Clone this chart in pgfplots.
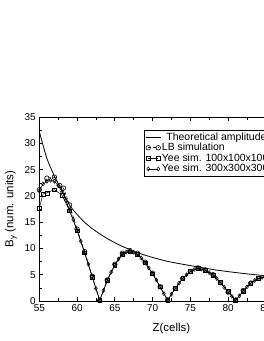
\documentclass[border=0pt]{standalone}
\usepackage{fontspec}
\setmainfont{Liberation Sans}
\usepackage{pgfplots}
\pgfplotsset{compat=1.18}
\begin{document}
\begin{tikzpicture}
\useasboundingbox (0,0) rectangle (264bp,341bp);
\begin{axis}[
  at={(39.3bp,40bp)}, anchor=south west,
  scale only axis, width=264.3bp, height=183.7bp,
  xmin=55, xmax=90, ymin=0, ymax=35,
  xtick={55,60,...,90}, ytick={0,5,...,35},
  minor xtick={57.5,62.5,...,87.5}, minor ytick={2.5,7.5,...,32.5},
  tick align=inside, major tick length=3.5bp, minor tick length=3bp,
  axis line style={line width=0.8bp}, every tick/.style={line width=0.7bp, black},
  /pgf/number format/assume math mode=true,
  tick label style={font=\fontsize{10}{12}\selectfont},
  xlabel={Z(cells)}, ylabel={B\textsubscript{y} (num. units)},
  label style={font=\fontsize{11.5}{13}\selectfont},
  xlabel style={yshift=-5bp}, ylabel style={yshift=1bp},
  clip=false,
  legend style={at={(axis cs:68.9,32.6)}, anchor=north west, draw=black, line width=0.6bp,
    font=\fontsize{10.5}{11}\selectfont, inner xsep=1pt, inner ysep=0.5pt, row sep=-2.5pt,
    cells={anchor=west}, nodes={inner xsep=1bp}},
  legend image code/.code={\draw[mark repeat=2,mark phase=1] plot coordinates {(0bp,0bp) (5bp,0bp) (10bp,0bp)};},
]
\addplot[black, line width=0.8bp, smooth, legend image code/.code={\path (-2.3bp,0) -- (12.3bp,0); \draw[line width=0.8bp] (3bp,0) -- (12.3bp,0);}] coordinates {
(55,32.3) (56,27.2) (57,23.8) (58,21.0) (59,18.3) (60,16.5) (61,15.0) (62,13.8) (63,12.8) (64,11.9) (65,11.1) (66,10.4) (67,9.8) (68,9.2) (70,8.3) (72,7.55) (74,7.0) (76,6.5) (78,6.0) (80,5.6) (82,5.25) (84,4.95) (86,4.7) (88,4.45) (90,4.25)};
\addlegendentry{\hspace{4.5bp}Theoretical amplitude}
\addplot[black, line width=0.6bp, densely dashed, mark=o, mark size=2.3bp, mark options={solid}] coordinates {
(55,21.2) (56,23.4) (57,23.6) (57.7,22.0) (58.2,21.5) (59,18.3) (60,13.7) (61,9.4) (62,4.7) (63,0.1) (64,4.0) (65,7.0) (66,9.1) (67,9.6) (68,9.1) (69,7.4) (70,5.3) (71,2.7) (72,0.2) (73,2.4) (74,4.3) (75,5.6) (76,6.3) (77,5.9) (78,5.0) (79,3.5) (80,1.7) (81,0.2) (82,2.0) (83,3.4) (84,4.3) (85,4.6) (86,4.5) (87,3.7)};
\addlegendentry{LB simulation}
\addplot[black, line width=0.5bp, mark=square, mark size=1.9bp] coordinates {
(55,17.7) (55.5,20.4) (56,20.6) (57,21.2) (58,20.2) (59,17.2) (60,13.4) (61,9.2) (62,4.6) (63,0.1) (64,3.9) (65,6.8) (66,8.9) (67,9.4) (68,8.9) (69,7.3) (70,5.2) (71,2.7) (72,0.1) (73,2.4) (74,4.3) (75,5.6) (76,6.2) (77,5.8) (78,4.9) (79,3.5) (80,1.8) (81,0.1) (82,1.9) (83,3.4) (84,4.3) (85,4.6) (86,4.4) (87,3.6)};
\addlegendentry{Yee sim. 100x100x100}
\addplot[black, line width=0.5bp, mark=diamond, mark size=2bp] coordinates {
(55,21.0) (55.5,22.3) (56,22.8) (56.5,23.0) (57,22.8) (57.5,22.0) (58,20.8) (58.5,19.2) (59,17.3) (59.5,15.5) (60,13.5) (60.5,11.4) (61,9.2) (61.5,7.0) (62,4.7) (62.5,2.4) (63,0.2) (63.5,2.0) (64,3.9) (64.5,5.5) (65,6.9) (65.5,8.0) (66,8.9) (66.5,9.3) (67,9.4) (67.5,9.3) (68,8.9) (68.5,8.2) (69,7.3) (69.5,6.3) (70,5.2) (70.5,4.0) (71,2.7) (71.5,1.4) (72,0.2) (72.5,1.3) (73,2.4) (73.5,3.4) (74,4.3) (74.5,5.0) (75,5.6) (75.5,6.0) (76,6.2) (76.5,6.1) (77,5.8) (77.5,5.4) (78,4.9) (78.5,4.3) (79,3.5) (79.5,2.6) (80,1.8) (80.5,0.9) (81,0.1) (81.5,1.0) (82,1.9) (82.5,2.7) (83,3.4) (83.5,3.9) (84,4.3) (84.5,4.5) (85,4.6) (85.5,4.6) (86,4.4) (86.5,4.1) (87,3.6)};
\addlegendentry{Yee sim. 300x300x300}
\end{axis}
\end{tikzpicture}
\end{document}
